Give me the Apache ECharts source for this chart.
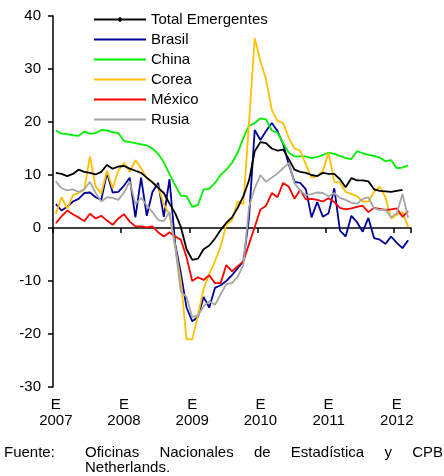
<!DOCTYPE html>
<html lang="es">
<head>
    <meta charset="UTF-8">
    <title>Emergentes</title>
    <script src="https://cdn.jsdelivr.net/npm/echarts@6/dist/echarts.min.js"></script>
    <style>
        html, body { margin: 0; padding: 0; background: #fff; }
    </style>
</head>
<body>
    <div id="main" style="width: 444px;height:476px;"></div>
    <script type="text/javascript">
        // meses (iniciales) y años del eje
        var mesesIni = ['E', 'F', 'M', 'A', 'M', 'J', 'J', 'A', 'S', 'O', 'N', 'D'];
        var anios = ['2007', '2008', '2009', '2010', '2011', '2012'];
        var yTicks = [-30, -20, -10, 0, 10, 20, 30, 40];

        // ene-2007 .. mar-2012
        var total = [10.4, 10.2, 9.8, 10.2, 11.0, 10.6, 10.4, 10.1, 10.6, 11.9, 11.2, 11.6,
            11.7, 11.2, 10.8, 10.4, 9.5, 8.6, 7.6, 6.6, 4.6, 2.8, 0.2, -4.0,
            -6.0, -5.8, -4.0, -3.3, -2.0, -0.4, 1.0, 2.0, 3.8, 6.0, 9.0, 14.5,
            16.2, 16.0, 15.0, 14.6, 14.8, 13.0, 11.0, 10.6, 10.4, 10.0, 9.8, 10.4,
            10.2, 10.2, 9.2, 7.7, 9.4, 9.0, 9.0, 8.8, 7.3, 7.0, 6.9, 6.8,
            7.0, 7.2];
        var brasil = [4.5, 3.3, 4.0, 5.0, 5.5, 6.6, 6.7, 5.8, 5.3, 10.4, 6.7, 6.8,
            8.0, 9.5, 2.0, 9.5, 2.3, 6.8, 8.5, 2.1, 9.2, -3.0, -8.5, -15.0,
            -17.6, -16.8, -13.0, -15.0, -11.3, -10.8, -10.0, -8.9, -7.6, -6.3, 2.0, 18.5,
            16.6, 18.3, 19.8, 18.3, 15.8, 12.0, 8.7, 8.5, 7.3, 2.0, 4.9, 2.1,
            2.8, 7.5, -0.5, -1.6, 2.3, 1.1, -0.7, 1.9, -1.9, -2.2, -3.0, -1.6,
            -2.8, -3.8, -2.3];
        var china = [18.4, 17.8, 17.7, 17.5, 17.4, 18.2, 17.8, 17.9, 18.5, 18.4, 18.1, 17.9,
            16.4, 16.2, 16.0, 15.8, 15.6, 15.0, 14.0, 12.4, 10.2, 8.1, 6.1, 6.0,
            4.0, 4.3, 7.3, 7.4, 8.5, 10.0, 11.0, 12.3, 14.2, 17.0, 19.3, 19.8,
            20.7, 20.5, 18.4, 18.0, 16.0, 14.2, 13.5, 13.5, 13.5, 13.2, 13.4, 13.8,
            14.2, 14.0, 13.6, 13.2, 13.0, 14.5, 14.1, 13.8, 13.6, 13.3, 12.6, 12.8,
            11.3, 11.4, 11.8];
        var corea = [2.7, 5.8, 3.6, 6.2, 6.6, 7.2, 13.5, 7.8, 6.5, 10.8, 7.5, 10.8,
            12.3, 10.6, 12.8, 11.3, 9.3, 8.7, 7.8, 4.5, 2.5, -3.5, -10.0, -21.0,
            -21.0, -16.5, -11.5, -8.7, -6.3, -3.5, 0.6, 1.5, 5.0, 4.5, 20.0, 35.8,
            31.5, 28.0, 22.3, 20.2, 19.8, 17.0, 15.0, 14.6, 12.0, 9.5, 9.8, 10.8,
            14.2, 8.7, 8.6, 6.8, 6.4, 6.0, 5.0, 5.0, 6.8, 7.8, 5.8, 1.8,
            2.5, 3.0, 0.2];
        var mexico = [0.9, 2.2, 3.3, 2.6, 2.0, 1.3, 2.7, 1.8, 2.3, 1.4, 0.6, 1.8,
            2.6, 1.2, 0.3, 0.3, 0.1, 0.3, -0.8, -1.6, -0.8, -1.6, -2.2, -5.5,
            -10.0, -9.3, -9.8, -8.9, -10.4, -10.4, -7.0, -8.2, -7.2, -6.3, -3.0, 0.2,
            3.5, 4.2, 6.6, 5.8, 8.5, 7.8, 5.5, 7.2, 5.4, 5.5, 5.3, 5.0,
            5.6, 4.9, 3.8, 3.5, 3.7, 4.0, 4.2, 3.0, 3.8, 3.6, 3.4, 3.5,
            3.7, 2.1, 3.2];
        var rusia = [8.8, 7.5, 7.1, 7.3, 6.8, 7.3, 8.7, 6.6, 5.0, 5.8, 5.7, 5.3,
            6.7, 8.8, 4.5, 5.7, 4.3, 3.0, 1.5, 1.3, 3.0, -3.5, -12.0, -13.0,
            -16.8, -16.5, -14.8, -13.8, -14.5, -12.5, -10.6, -10.4, -9.2, -7.0, 4.0, 7.5,
            10.0, 8.7, 9.5, 10.3, 11.3, 12.3, 8.5, 7.0, 6.2, 6.4, 6.7, 6.6,
            6.0, 6.6, 5.7, 5.3, 4.8, 4.6, 5.5, 5.8, 3.7, 3.4, 3.5, 2.0,
            2.8, 6.4, 1.9];

        var fuente = 'Fuente:';
        var fuenteTexto = ['Oficinas Nacionales de Estadística y CPB', 'Netherlands.'];

        // categorias: "E\n2007", "F\n2007", ...
        var categorias = [];
        for (var a = 0; a < anios.length; a++) {
            for (var m = 0; m < 12; m++) {
                if (categorias.length < china.length) categorias.push(mesesIni[m] + '\n' + anios[a]);
            }
        }

        var fontFam = "'Liberation Sans', Arial, sans-serif";
        var fs = 15;

        // primera linea de la fuente justificada entre x=85 y x=443
        var ctx = document.createElement('canvas').getContext('2d');
        ctx.font = fs + 'px ' + fontFam;
        var palabras = fuenteTexto[0].split(' ');
        var anchoPal = 0;
        palabras.forEach(function (p) { anchoPal += ctx.measureText(p).width; });
        var hueco = (443 - 85 - anchoPal) / (palabras.length - 1);
        var graficos = [{
            type: 'text', left: 4, top: 445,
            style: { text: fuente, font: fs + 'px ' + fontFam, fill: '#000' }
        }];
        var xp = 85;
        palabras.forEach(function (p) {
            graficos.push({
                type: 'text', left: xp, top: 445,
                style: { text: p, font: fs + 'px ' + fontFam, fill: '#000' }
            });
            xp += ctx.measureText(p).width + hueco;
        });
        graficos.push({
            type: 'text', left: 85, top: 460,
            style: { text: fuenteTexto[1], font: fs + 'px ' + fontFam, fill: '#000' }
        });

        var myChart = echarts.init(document.getElementById('main'));

        var serieLinea = function (nombre, datos, color, extra) {
            var s = {
                name: nombre,
                type: 'line',
                data: datos,
                symbol: 'none',
                lineStyle: { color: color, width: 1.8 },
                itemStyle: { color: color },
                animation: false
            };
            if (extra) for (var k in extra) s[k] = extra[k];
            return s;
        };

        // en la leyenda solo la linea, salvo el total que lleva marca
        var sinMarca = { opacity: 0 };

        var option = {
            textStyle: { fontFamily: fontFam },
            grid: { left: 53, right: 33, top: 16, bottom: 89 },
            legend: {
                orient: 'vertical',
                left: 88,
                top: 7,
                itemWidth: 52,
                itemHeight: 7,
                itemGap: 5,
                textStyle: { fontSize: fs, color: '#000', fontFamily: fontFam },
                data: [
                    { name: 'Total Emergentes' },
                    { name: 'Brasil', itemStyle: sinMarca },
                    { name: 'China', itemStyle: sinMarca },
                    { name: 'Corea', itemStyle: sinMarca },
                    { name: 'México', itemStyle: sinMarca },
                    { name: 'Rusia', itemStyle: sinMarca }
                ]
            },
            xAxis: [{
                type: 'category',
                data: categorias,
                boundaryGap: true,
                axisLine: { onZero: true, lineStyle: { color: '#000', width: 1.5 } },
                axisTick: { show: true, interval: 11, length: 5, lineStyle: { color: '#000', width: 1.5 } },
                axisLabel: { show: false },
                splitLine: { show: false }
            }, {
                type: 'category',
                data: categorias,
                position: 'bottom',
                boundaryGap: true,
                axisLine: { show: false, onZero: false },
                axisTick: { show: false },
                axisLabel: {
                    interval: 11,
                    margin: 10,
                    fontSize: fs,
                    lineHeight: 16,
                    color: '#000'
                },
                splitLine: { show: false }
            }],
            yAxis: {
                type: 'value',
                min: yTicks[0],
                max: yTicks[yTicks.length - 1],
                interval: 10,
                axisLine: { show: true, lineStyle: { color: '#000', width: 1.5 } },
                axisTick: { show: true, length: 5, lineStyle: { color: '#000', width: 1.5 } },
                axisLabel: { fontSize: fs, color: '#000', margin: 12 },
                splitLine: { show: false }
            },
            graphic: graficos,
            series: [
                serieLinea('Brasil', brasil, '#000099'),
                serieLinea('China', china, '#00f000'),
                serieLinea('Corea', corea, '#ffc000'),
                serieLinea('México', mexico, '#ff0000'),
                serieLinea('Rusia', rusia, '#a6a6a6'),
                serieLinea('Total Emergentes', total, '#000000', {
                    symbol: 'diamond', symbolSize: 5, showSymbol: true, z: 5
                })
            ]
        };

        myChart.setOption(option);
    </script>
</body>
</html>
